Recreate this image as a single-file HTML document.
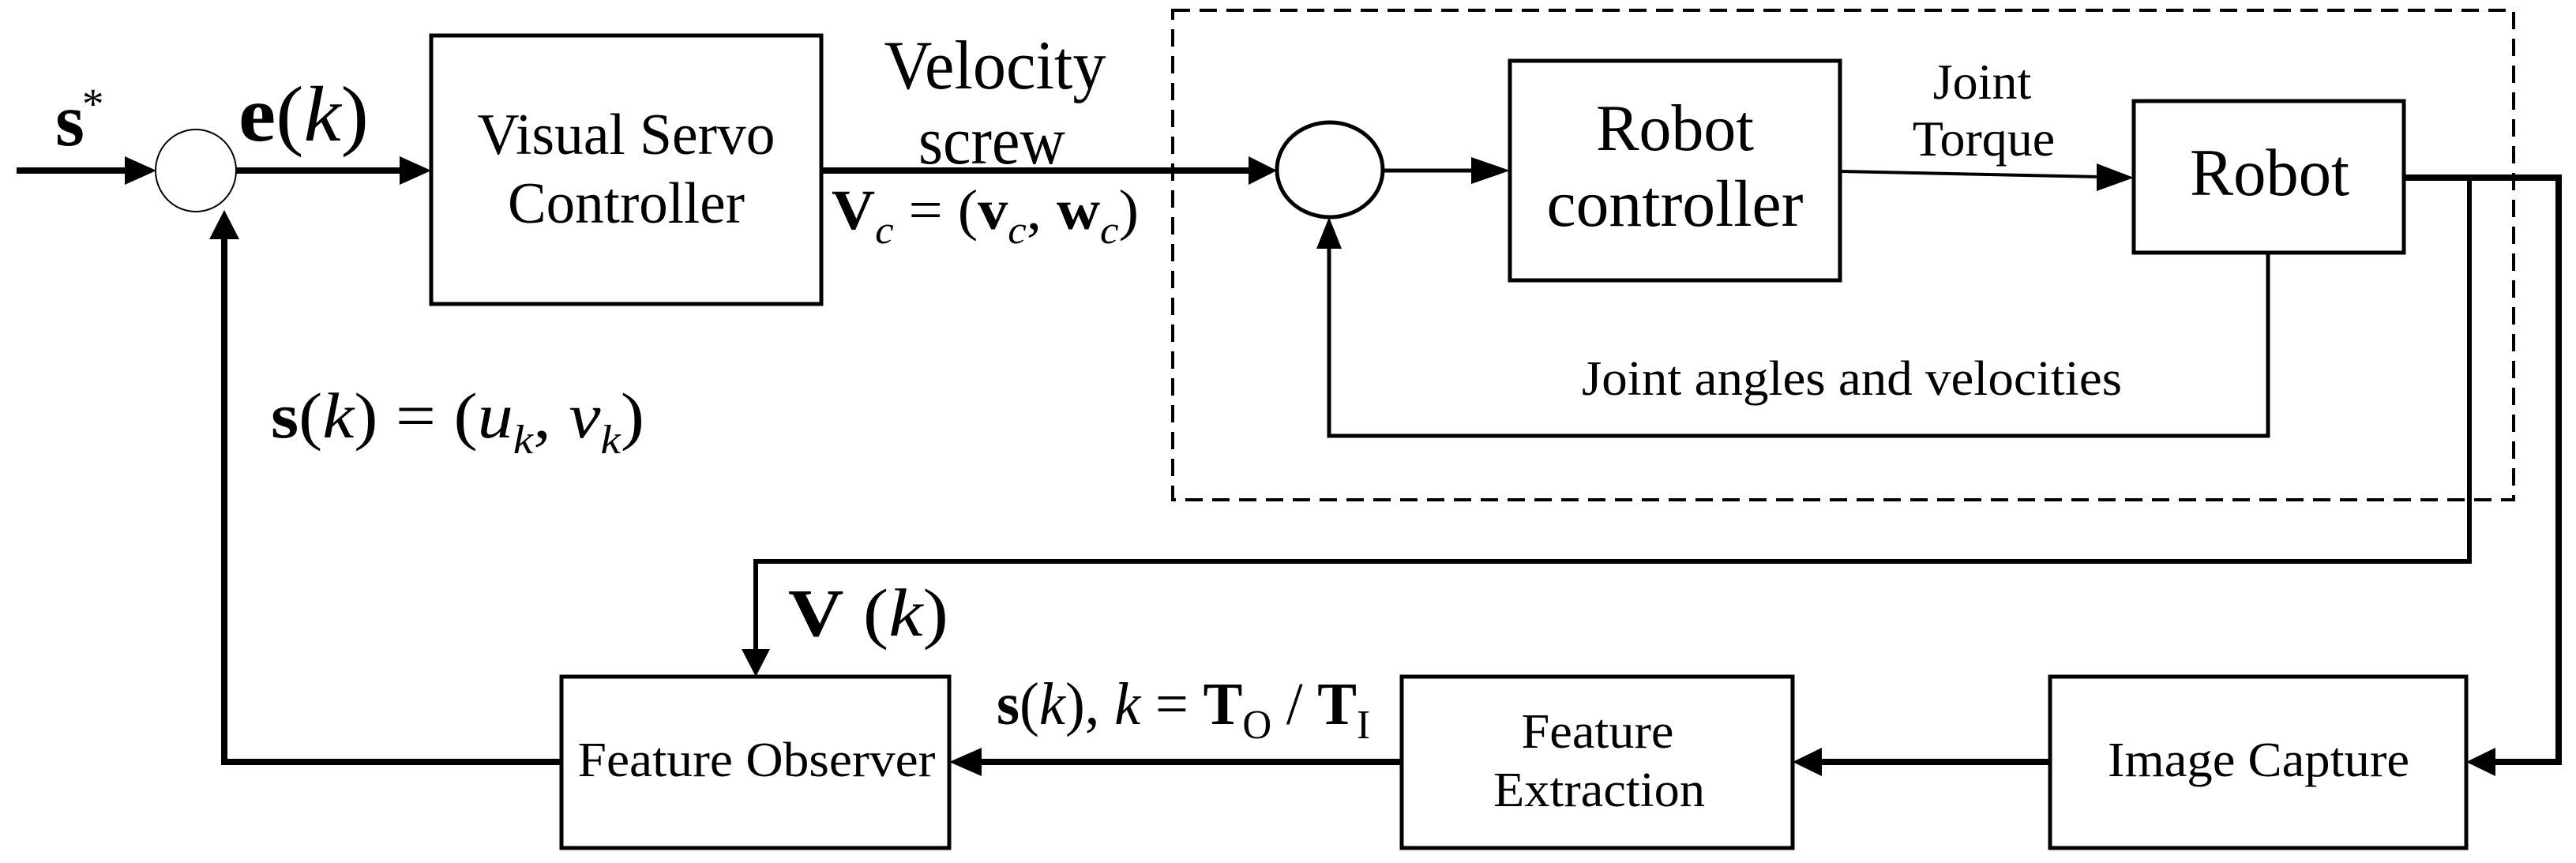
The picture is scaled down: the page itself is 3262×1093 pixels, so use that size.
<!DOCTYPE html>
<html><head><meta charset="utf-8"><style>
html,body{margin:0;padding:0;background:#fff;}
svg{display:block;}
text{font-family:"Liberation Serif",serif;fill:#000;}
</style></head><body>
<svg width="3262" height="1093" viewBox="0 0 3262 1093" xmlns="http://www.w3.org/2000/svg">
<g fill="none" stroke="#000" stroke-linecap="butt">
<rect x="1485" y="13" width="1698" height="620" stroke-width="4" stroke-dasharray="22,12"/>
<rect x="546" y="45" width="494" height="340" stroke-width="5"/>
<rect x="1912" y="77" width="418" height="278" stroke-width="5"/>
<rect x="2702" y="128" width="342" height="192" stroke-width="5"/>
<rect x="711" y="857" width="491" height="217" stroke-width="5"/>
<rect x="1775" y="857" width="495" height="217" stroke-width="5"/>
<rect x="2596" y="857" width="527" height="217" stroke-width="5"/>
<ellipse cx="248" cy="216" rx="51" ry="52" stroke-width="2"/>
<ellipse cx="1684" cy="215" rx="67" ry="60" stroke-width="5"/>
<line x1="21" y1="216" x2="160" y2="216" stroke-width="8"/>
<line x1="298" y1="216" x2="508" y2="216" stroke-width="8"/>
<line x1="1040" y1="216" x2="1583" y2="216" stroke-width="8"/>
<line x1="1751" y1="216" x2="1865" y2="216" stroke-width="5"/>
<line x1="2330" y1="217" x2="2660" y2="224" stroke-width="4"/>
<polyline points="3044,225 3240,225 3240,965 3160,965" stroke-width="8"/>
<polyline points="3127,225 3127,711 957,711 957,822" stroke-width="6"/>
<polyline points="2872,320 2872,552 1683,552 1683,313" stroke-width="5"/>
<line x1="2596" y1="965" x2="2307" y2="965" stroke-width="8"/>
<line x1="1775" y1="965" x2="1243" y2="965" stroke-width="8"/>
<polyline points="711,965 284,965 284,303" stroke-width="8"/>
</g>
<g fill="#000">
<polygon points="158,198 198,216 158,234"/>
<polygon points="506,198 546,216 506,234"/>
<polygon points="1581,198 1617,216 1581,234"/>
<polygon points="1863,199 1912,216 1863,233"/>
<polygon points="2655,207 2702,225 2655,242"/>
<polygon points="3123,965 3160,947 3160,983"/>
<polygon points="2270,965 2307,947 2307,983"/>
<polygon points="1202,965 1243,947 1243,983"/>
<polygon points="939,822 975,822 957,857"/>
<polygon points="284,266 265,303 303,303"/>
<polygon points="1683,275 1667,315 1699,315"/>
</g>
<text x="70" y="184" font-size="95" font-weight="bold">s</text>
<text x="104" y="150" font-size="55">*</text>
<text x="302" y="178" font-size="100" textLength="165" lengthAdjust="spacingAndGlyphs"><tspan font-weight="bold">e</tspan>(<tspan font-style="italic">k</tspan>)</text>
<text x="793" y="195" font-size="74" text-anchor="middle" textLength="377" lengthAdjust="spacingAndGlyphs">Visual Servo</text>
<text x="793" y="282" font-size="74" text-anchor="middle" textLength="300" lengthAdjust="spacingAndGlyphs">Controller</text>
<text x="1260" y="112" font-size="88" text-anchor="middle" textLength="281" lengthAdjust="spacingAndGlyphs">Velocity</text>
<text x="1256" y="207" font-size="86" text-anchor="middle" textLength="186" lengthAdjust="spacingAndGlyphs">screw</text>
<text x="1053" y="290" font-size="72" textLength="389" lengthAdjust="spacingAndGlyphs"><tspan font-weight="bold">V</tspan><tspan font-style="italic" font-size="50" dy="18">c</tspan><tspan dy="-18"> = (</tspan><tspan font-weight="bold">v</tspan><tspan font-style="italic" font-size="50" dy="18">c</tspan><tspan dy="-18">, </tspan><tspan font-weight="bold">w</tspan><tspan font-style="italic" font-size="50" dy="18">c</tspan><tspan dy="-18">)</tspan></text>
<text x="2121" y="190" font-size="84" text-anchor="middle" textLength="200" lengthAdjust="spacingAndGlyphs">Robot</text>
<text x="2121" y="286" font-size="84" text-anchor="middle" textLength="325" lengthAdjust="spacingAndGlyphs">controller</text>
<text x="2510" y="125" font-size="64" text-anchor="middle">Joint</text>
<text x="2512" y="197" font-size="64" text-anchor="middle">Torque</text>
<text x="2874" y="247" font-size="85" text-anchor="middle" textLength="202" lengthAdjust="spacingAndGlyphs">Robot</text>
<text x="2003" y="500" font-size="62" textLength="684" lengthAdjust="spacingAndGlyphs">Joint angles and velocities</text>
<text x="343" y="554" font-size="82" textLength="473" lengthAdjust="spacingAndGlyphs"><tspan font-weight="bold">s</tspan>(<tspan font-style="italic">k</tspan>) = (<tspan font-style="italic">u</tspan><tspan font-style="italic" font-size="52" dy="20">k</tspan><tspan dy="-20">, </tspan><tspan font-style="italic">v</tspan><tspan font-style="italic" font-size="52" dy="20">k</tspan><tspan dy="-20">)</tspan></text>
<text x="998" y="805" font-size="86" textLength="203" lengthAdjust="spacingAndGlyphs"><tspan font-weight="bold">V</tspan> (<tspan font-style="italic">k</tspan>)</text>
<text x="1262" y="917" font-size="76" textLength="473" lengthAdjust="spacingAndGlyphs"><tspan font-weight="bold">s</tspan>(<tspan font-style="italic">k</tspan>), <tspan font-style="italic">k</tspan> = <tspan font-weight="bold">T</tspan><tspan font-size="52" dy="18">O</tspan><tspan dy="-18"> / </tspan><tspan font-weight="bold">T</tspan><tspan font-size="52" dy="18">I</tspan></text>
<text x="958" y="983" font-size="62" text-anchor="middle" textLength="453" lengthAdjust="spacingAndGlyphs">Feature Observer</text>
<text x="2023" y="947" font-size="62" text-anchor="middle" textLength="193" lengthAdjust="spacingAndGlyphs">Feature</text>
<text x="2025" y="1021" font-size="62" text-anchor="middle" textLength="268" lengthAdjust="spacingAndGlyphs">Extraction</text>
<text x="2860" y="983" font-size="62" text-anchor="middle" textLength="382" lengthAdjust="spacingAndGlyphs">Image Capture</text>
</svg>
</body></html>
